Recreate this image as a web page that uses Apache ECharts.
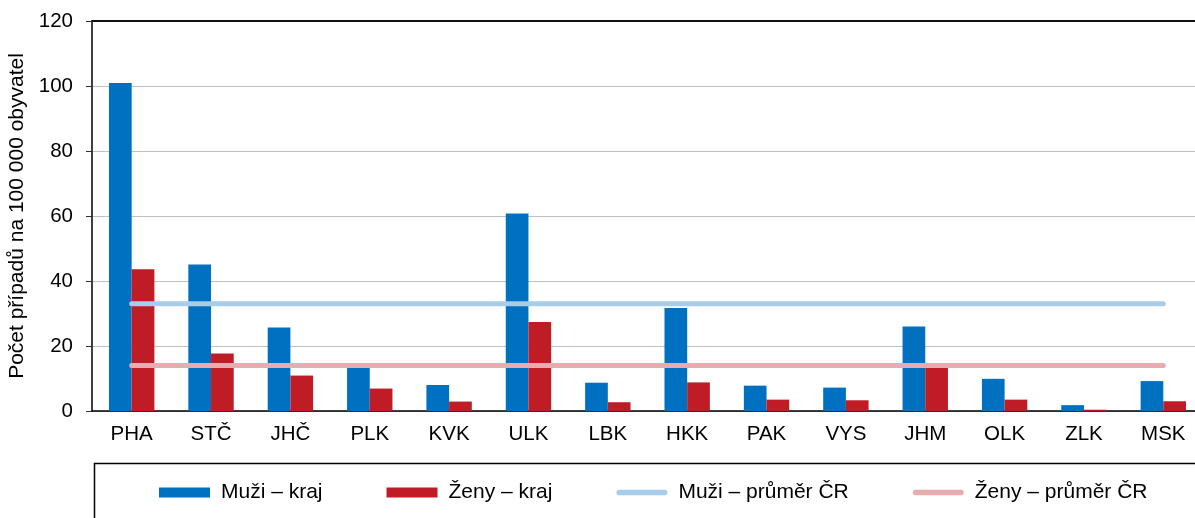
<!DOCTYPE html>
<html>
<head>
<meta charset="utf-8">
<script src="https://cdn.jsdelivr.net/npm/echarts@6/dist/echarts.min.js"></script>
<style>
html, body { margin: 0; padding: 0; background: #fff; overflow: hidden; }
#chart { width: 1195px; height: 518px; }
</style>
</head>
<body>
<div id="chart"></div>
<script>
const kraje = ['PHA', 'STČ', 'JHČ', 'PLK', 'KVK', 'ULK', 'LBK', 'HKK', 'PAK', 'VYS', 'JHM', 'OLK', 'ZLK', 'MSK'];
const muziKraj = [100.9, 45.1, 25.7, 13.5, 8.0, 60.8, 8.7, 31.7, 7.8, 7.2, 26.0, 9.9, 1.8, 9.2];
const zenyKraj = [43.6, 17.7, 10.9, 6.9, 2.9, 27.4, 2.7, 8.8, 3.5, 3.3, 13.6, 3.5, 0.4, 3.0];
const muziPrumer = [33, 33, 33, 33, 33, 33, 33, 33, 33, 33, 33, 33, 33, 33];
const zenyPrumer = [14, 14, 14, 14, 14, 14, 14, 14, 14, 14, 14, 14, 14, 14];
const yTicks = [0, 20, 40, 60, 80, 100, 120];

const font = "'Liberation Sans', Arial, sans-serif";
const lineIcon = 'path://M3,0 L54,0 A3,3 0 0 1 54,6 L3,6 A3,3 0 0 1 3,0 Z';

const myChart = echarts.init(document.getElementById('chart'));
const option = {
    animation: false,
    textStyle: { fontFamily: font, color: '#000' },
    grid: {
        left: 92,
        top: 21,
        right: -8,
        height: 390,
        outerBoundsMode: 'none',
        containLabel: false
    },
    graphic: [{
        type: 'rect',
        left: 92,
        top: 461,
        shape: { width: 1200, height: 100 },
        style: { fill: 'none', stroke: '#000', lineWidth: 1.5 }
    }],
    legend: {
        left: 154,
        top: 477,
        itemWidth: 51,
        itemHeight: 10,
        itemGap: 64,
        textStyle: { fontFamily: font, fontSize: 21, color: '#000', padding: [0, 0, 0, 6] },
        data: [
            { name: 'Muži – kraj', icon: 'rect' },
            { name: 'Ženy – kraj', icon: 'rect' },
            { name: 'Muži – průměr ČR', icon: lineIcon },
            { name: 'Ženy – průměr ČR', icon: lineIcon }
        ]
    },
    xAxis: [
        {
            type: 'category',
            data: kraje,
            axisLine: { lineStyle: { color: '#000', width: 1.5 } },
            axisTick: { length: 6, lineStyle: { color: '#333' } },
            axisLabel: { fontFamily: font, fontSize: 20.5, color: '#000', margin: 13 }
        },
        {
            type: 'category',
            data: kraje,
            position: 'top',
            axisLine: { lineStyle: { color: '#111', width: 1.8 } },
            axisTick: { show: false },
            axisLabel: { show: false }
        }
    ],
    yAxis: {
        type: 'value',
        min: yTicks[0],
        max: yTicks[yTicks.length - 1],
        interval: 20,
        name: 'Počet případů na 100 000 obyvatel',
        nameLocation: 'middle',
        nameGap: 62,
        nameTextStyle: { fontFamily: font, fontSize: 21, color: '#000' },
        axisLine: { show: true, lineStyle: { color: '#000', width: 1.5 } },
        axisTick: { show: true, length: 6, lineStyle: { color: '#333' } },
        axisLabel: { fontFamily: font, fontSize: 20.5, color: '#000', margin: 19 },
        splitLine: { lineStyle: { color: '#bfbfbf', width: 1 } }
    },
    series: [
        {
            name: 'Muži – kraj',
            type: 'bar',
            barWidth: 22.7,
            barGap: '0%',
            itemStyle: { color: '#0070c0' },
            data: muziKraj
        },
        {
            name: 'Ženy – kraj',
            type: 'bar',
            barWidth: 22.7,
            barGap: '0%',
            itemStyle: { color: '#c01c26' },
            data: zenyKraj
        },
        {
            name: 'Muži – průměr ČR',
            type: 'line',
            symbol: 'none',
            itemStyle: { color: '#a7cdeb' },
            lineStyle: { color: '#a7cdeb', width: 5, cap: 'round' },
            data: muziPrumer
        },
        {
            name: 'Ženy – průměr ČR',
            type: 'line',
            symbol: 'none',
            itemStyle: { color: '#e8abaf' },
            lineStyle: { color: '#e8abaf', width: 5, cap: 'round' },
            data: zenyPrumer
        }
    ]
};
myChart.setOption(option);
</script>
</body>
</html>
